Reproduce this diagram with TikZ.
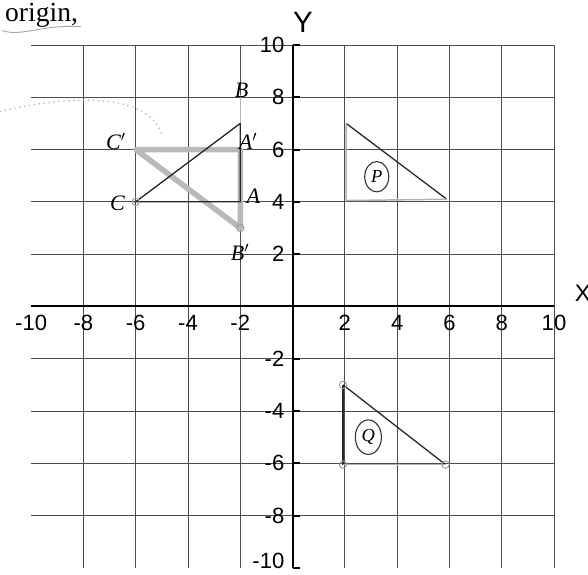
\documentclass[tikz,border=0pt]{standalone}
\usepackage{fontspec}
\setmainfont{Liberation Serif}
\setsansfont{Liberation Sans}
\usetikzlibrary{shapes.geometric}

\begin{document}
\begin{tikzpicture}[x=0.5cm,y=0.5cm,
   gridline/.style={black!70,line width=0.5pt},
   axis/.style={black,line width=1.1pt},
   num/.style={font=\sffamily\fontsize{12}{12}\selectfont,inner sep=0pt},
   pencil/.style={black!85,line width=0.7pt},
   faint/.style={gray!60,line width=0.8pt},
   shade/.style={gray!55,line width=3pt,line join=round,line cap=round},
   hand/.style={font=\itshape\fontsize{12}{12}\selectfont,inner sep=0pt},
   dot/.style={circle,draw=gray!80,line width=0.5pt,inner sep=0pt,minimum size=4pt},
   ring/.style={ellipse,draw=black!80,line width=0.6pt,inner sep=0pt}]
  \useasboundingbox (-11.19,-10.27) rectangle (11.30,11.72);
  % heading
  \node[font=\fontsize{15}{15}\selectfont,inner sep=0pt] (head) at (-9.6,11.15) {origin,};
  \draw[gray!70,line width=0.5pt] (-11.1,10.55) .. controls (-10.4,10.3) and (-9.5,10.8) .. (-8.1,10.7);
  % grid and axes
  \draw[gridline] (-10,-10) grid (10,10);
  \draw[axis] (-10,0) -- (10,0);
  \draw[axis] (0,-10) -- (0,10);
  \foreach \k in {-10,-8,...,10}
    \draw[axis] (0,\k) -- (0.3,\k);
  \foreach \k in {-10,-8,-6,-4,-2,2,4,6,8,10}
    \node[num] at (\k,-0.62) {\k};
  \foreach \k in {-8,-6,-4,-2,2,4,6,8,10}
    \node[num,anchor=east] at (-0.3,\k) {\k};
  \node[num,anchor=east] at (-0.3,-9.72) {-10};
  \node[font=\sffamily\fontsize{13}{13}\selectfont] (xlab) at (11.1,0.5) {X};
  \node[font=\sffamily\fontsize{16}{16}\selectfont] (ylab) at (0.4,10.85) {Y};
  % triangle ABC and its image
  \coordinate (A) at (-2,4);
  \coordinate (B) at (-2,7);
  \coordinate (C) at (-6,4);
  \coordinate (A') at (-2,6);
  \coordinate (B') at (-2,3);
  \coordinate (C') at (-6,6);
  \draw[shade] (C') -- (A') -- (B') -- cycle;
  \draw[pencil] (C) -- (A) -- (B) -- cycle;
  \draw[faint] (B) -- (-2,8.1);
  \node[dot] at (C) {};
  \node[dot] at (B') {};
  \draw[gray!60,dotted,line width=0.7pt] (-11.2,7.45) .. controls (-8.5,8.1) and (-5.6,8.2) .. (-5.0,6.6);
  \node[hand] (lA) at (-1.5,4.2) {A};
  \node[hand] (lB) at (-1.95,8.25) {B};
  \node[hand] (lC) at (-6.7,3.95) {C};
  \node[hand] (lA') at (-1.7,6.3) {A$'$};
  \node[hand] (lB') at (-2.0,2.05) {B$'$};
  \node[hand] (lC') at (-6.75,6.3) {C$'$};
  % triangle P
  \coordinate (P1) at (2.05,7);
  \coordinate (P2) at (5.9,4.1);
  \coordinate (P3) at (2.05,4.05);
  \draw[pencil] (P1) -- (P2);
  \draw[faint] (P2) -- (P3) -- (P1);
  \node[ring,minimum width=0.46cm,minimum height=0.58cm] (P) at (3.22,4.96) {\itshape P};
  % triangle Q
  \coordinate (Q1) at (1.93,-3);
  \coordinate (Q2) at (1.93,-6.05);
  \coordinate (Q3) at (5.85,-6.05);
  \draw[pencil] (Q1) -- (Q3);
  \draw[pencil] (Q1) -- (Q2);
  \draw[faint] (Q2) -- (Q3);
  \foreach \q in {Q1,Q2,Q3}
    \node[dot] at (\q) {};
  \node[ring,minimum width=0.5cm,minimum height=0.66cm] (Q) at (2.9,-5.0) {\itshape Q};
\end{tikzpicture}
\end{document}
